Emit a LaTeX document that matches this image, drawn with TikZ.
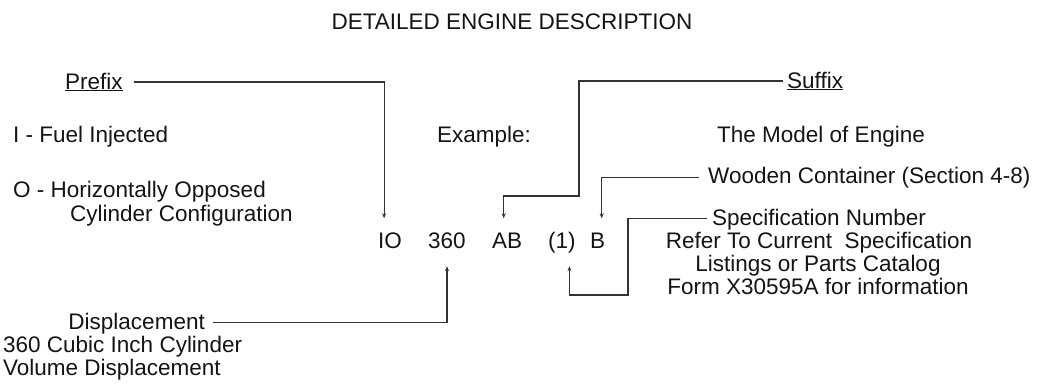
\documentclass[tikz,border=0pt]{standalone}
\usepackage{fontspec}
\setmainfont{Liberation Sans}
\usetikzlibrary{arrows.meta}
\begin{document}
\begin{tikzpicture}[x=1pt,y=-1pt,
  txt/.style={font=\fontsize{22.5}{23}\selectfont, inner sep=2pt, text=black!92},
  code/.style={txt, text height=16.5pt, text depth=5pt, inner xsep=1pt, inner ysep=13pt},
  conn/.style={draw=black!80, line width=1.1pt},
  arr/.style={conn, -{Stealth[length=5pt,width=4pt]}}]
\useasboundingbox (0,0) rectangle (1042,386);

% title
\node[txt, anchor=base] (title) at (512,29) {DETAILED ENGINE DESCRIPTION};

% left texts
\node[txt, anchor=base west, inner xsep=0pt] (prefix) at (65,89) {\underline{Prefix}};
\node[txt, anchor=base west] (fuel) at (11,142) {I - Fuel Injected};
\node[txt, anchor=base west] (opp) at (11,197) {O - Horizontally Opposed};
\node[txt, anchor=base west] (cyl) at (68,221) {Cylinder Configuration};
\node[txt, anchor=base west] (example) at (435,142) {Example:};

% code
\node[code, anchor=base west] (io) at (377,248) {IO};
\node[code, anchor=base west] (n360) at (427,248) {360};
\node[code, anchor=base west] (ab) at (491,248) {AB};
\node[code, anchor=base west] (one) at (547,248) {(1)};
\node[code, anchor=base west] (b) at (589,248) {B};

% right texts
\node[txt, anchor=base west, inner xsep=0pt] (suffix) at (787,88) {\underline{Suffix}};
\node[txt, anchor=base west] (model) at (715,142) {The Model of Engine};
\node[txt, anchor=base west] (wood) at (706,183) {Wooden Container (Section 4-8)};
\node[txt, anchor=base] (spec) at (819,225) {Specification Number};
\node[txt, anchor=base] (spec2) at (819,248) {Refer To Current\ \ Specification};
\node[txt, anchor=base] (spec3) at (818,271) {Listings or Parts Catalog};
\node[txt, anchor=base] (spec4) at (818,294) {Form X30595A for information};

% displacement
\node[txt, anchor=base east] (disp) at (207,329) {Displacement};
\node[txt, anchor=base west] (disp2) at (1,352) {360 Cubic Inch Cylinder};
\node[txt, anchor=base west] (disp3) at (1,375) {Volume Displacement};

% connectors
\draw[arr] ([xshift=11pt]prefix.east) -| ([xshift=-6pt]io.north);
\draw[arr] ([xshift=-4pt]suffix.west) -| (579,196) -| ([xshift=-3.5pt]ab.north);
\draw[arr] ([xshift=-7pt]wood.west) -| ([xshift=4pt]b.north);
\draw[arr] ([xshift=-3pt,yshift=1pt]spec.west) -| (628,295) -| ([xshift=7.5pt]one.south);
\draw[arr] ([xshift=6pt,yshift=1pt]disp.east) -| (n360.south);
\end{tikzpicture}
\end{document}
